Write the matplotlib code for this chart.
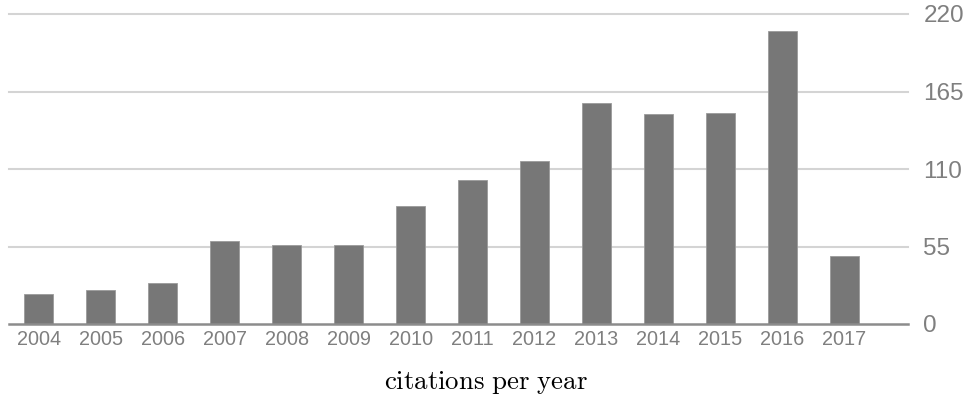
import matplotlib.pyplot as plt
import numpy as np

years = ["2004", "2005", "2006", "2007", "2008", "2009", "2010",
         "2011", "2012", "2013", "2014", "2015", "2016", "2017"]
citations = [21, 24, 29, 59, 56, 56, 84, 102, 116, 157, 149, 150, 208, 48]
y_ticks = [0, 55, 110, 165, 220]

plt.rcParams["font.family"] = ["Liberation Sans", "DejaVu Sans"]
plt.rcParams["mathtext.fontset"] = "cm"

fig = plt.figure(figsize=(9.72, 4.0), dpi=100)
ax = fig.add_axes([0.0093, 0.19, 0.925, 0.775])

x = np.arange(len(years))
ax.bar(x, citations, width=0.47, color="#777777", edgecolor="#9a9a9a",
       linewidth=0.6, zorder=3)

ax.set_xlim(-0.48, len(years) - 1 + 1.03)
ax.set_ylim(0, 220)
ax.set_xticks(x)
ax.set_xticklabels(years)
ax.set_yticks(y_ticks)

# value axis on the right, no tick marks
ax.yaxis.tick_right()
ax.tick_params(axis="y", length=0, pad=11, labelsize=17.5, labelcolor="#7f7f7f")
ax.tick_params(axis="x", length=0, pad=4, labelsize=14.3, labelcolor="#7f7f7f")

for v in y_ticks[1:]:
    ax.axhline(v, color="#d4d4d4", linewidth=1.5, zorder=1, clip_on=False)

for side in ["top", "left", "right"]:
    ax.spines[side].set_visible(False)
ax.spines["bottom"].set_color("#8c8c8c")
ax.spines["bottom"].set_linewidth(1.8)
ax.spines["bottom"].set_zorder(4)

fig.text(0.5, 0.045, r"$\mathrm{citations\ per\ year}$", ha="center",
         va="center", fontsize=19.3, color="black")

fig.savefig("out.png", dpi=100)
